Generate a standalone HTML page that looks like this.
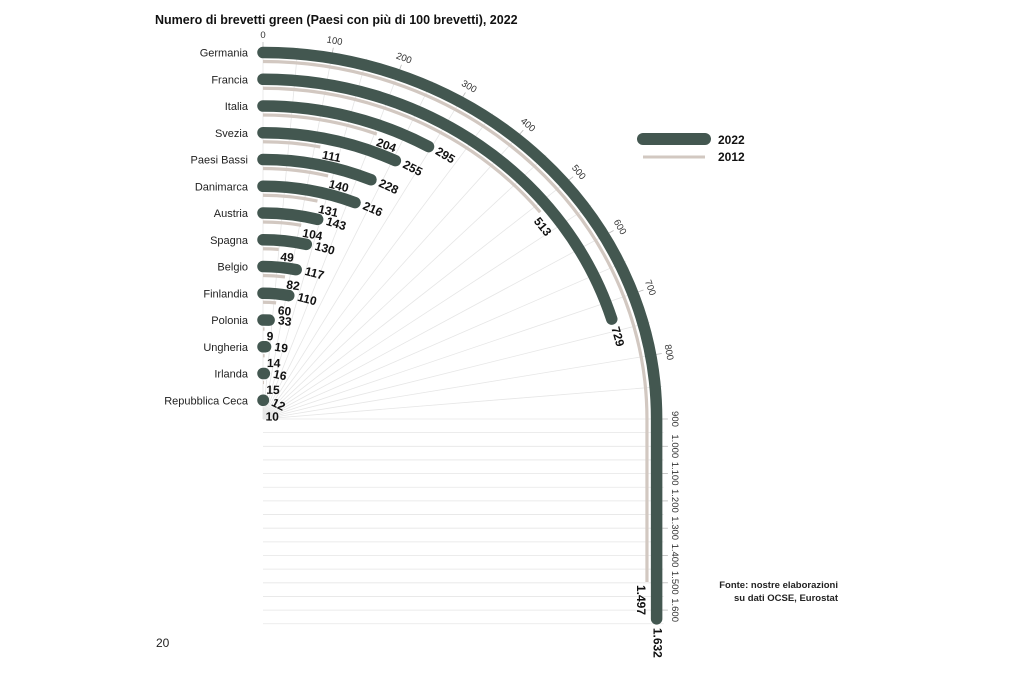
<!DOCTYPE html>
<html><head><meta charset="utf-8">
<style>
html,body{margin:0;padding:0;background:#fff;}
body{width:1033px;height:682px;overflow:hidden;position:relative;font-family:"Liberation Sans",sans-serif;}
svg{position:absolute;left:0;top:0;}
</style></head>
<body>
<svg id="s" width="1033" height="682" xmlns="http://www.w3.org/2000/svg">
<text x="155" y="24" font-size="12.5" font-weight="bold" fill="#111">Numero di brevetti green (Paesi con più di 100 brevetti), 2022</text>
<text x="156" y="647" font-size="12" fill="#222">20</text>
<text x="838" y="588" font-size="9.5" font-weight="bold" fill="#222" text-anchor="end">Fonte: nostre elaborazioni</text>
<text x="838" y="601" font-size="9.5" font-weight="bold" fill="#222" text-anchor="end">su dati OCSE, Eurostat</text>
<line x1="643" y1="139" x2="705" y2="139" stroke="#435750" stroke-width="12" stroke-linecap="round"/>
<text x="718" y="144" font-size="12" font-weight="bold" fill="#111">2022</text>
<line x1="643" y1="157" x2="705" y2="157" stroke="#d2c8c1" stroke-width="3"/>
<text x="718" y="161" font-size="12" font-weight="bold" fill="#111">2012</text>
<g id="g"></g>
</svg>
<script>
var NS="http://www.w3.org/2000/svg",g=document.getElementById("g");
var cx=263,cy=419,K=1.074,PX=0.273;
function el(n,a,t){var e=document.createElementNS(NS,n);for(var k in a)e.setAttribute(k,a[k]);if(t!=null)e.textContent=t;g.appendChild(e);return e;}
function pt(ry,v){if(v<=900){var t=v/900*Math.PI/2;return[cx+ry*K*Math.sin(t),cy-ry*Math.cos(t)];}return[cx+ry*K,cy+(v-900)*PX];}
function path(ry,v){var rx=ry*K,s="M"+cx+","+(cy-ry);var e=pt(ry,Math.min(v,900));s+=" A"+rx+","+ry+" 0 0 1 "+e[0]+","+e[1];if(v>900){s+=" L"+(cx+rx)+","+(cy+(v-900)*PX);}return s;}
for(var v=0;v<900;v+=50){var p=pt(373,v);el("line",{x1:cx,y1:cy,x2:p[0],y2:p[1],stroke:"#e6e6e6","stroke-width":0.8});}
for(var v=900;v<=1650;v+=50){var y=cy+(v-900)*PX;el("line",{x1:cx,y1:y,x2:cx+373*K,y2:y,stroke:"#e6e6e6","stroke-width":0.8});}
for(var v=0;v<=1600;v+=100){var a=pt(372,v),b=pt(377,v);el("line",{x1:a[0],y1:a[1],x2:b[0],y2:b[1],stroke:"#bbb","stroke-width":0.8});
 var l=pt(381,v),ang=v<=900?v/10:90;var lab=v>=1000?(Math.floor(v/1000)+"."+String(v%1000).padStart(3,"0")):String(v);
 el("text",{x:l[0],y:l[1],"font-size":"9.5",fill:"#333","text-anchor":"middle",transform:"rotate("+ang+" "+l[0]+" "+l[1]+")"},lab);}
var d=[["Germania",1632,1497],["Francia",729,513],["Italia",295,204],["Svezia",255,111],["Paesi Bassi",228,140],["Danimarca",216,131],["Austria",143,104],["Spagna",130,49],["Belgio",117,82],["Finlandia",110,60],["Polonia",33,9],["Ungheria",19,14],["Irlanda",16,15],["Repubblica Ceca",12,10]];
function fmt(n){return n>=1000?Math.floor(n/1000)+"."+String(n%1000).padStart(3,"0"):String(n);}
d.forEach(function(r,i){var y=52.5+i*26.75,ry=cy-y;
 el("text",{x:248,y:y+4,"font-size":"11",fill:"#222","text-anchor":"end"},r[0]);
 el("path",{d:path(ry-9,r[2]),fill:"none",stroke:"#d2c8c1","stroke-width":3.2});
 el("path",{d:path(ry,r[1]),fill:"none",stroke:"#435750","stroke-width":11.5,"stroke-linecap":"round"});
 var ang,p;
 if(r[1]>900){p=[cx+ry*K,cy+(r[1]-900)*PX+9];ang=90;}
 else{var dv=(9/(ry*K))*(900/(Math.PI/2));p=pt(ry,r[1]+dv);ang=(r[1]+dv)/10;}
 el("text",{x:p[0],y:p[1],"font-size":"12","font-weight":"bold",fill:"#111","dominant-baseline":"middle",transform:"rotate("+ang+" "+p[0]+" "+p[1]+")"},fmt(r[1]));
 if(r[2]>900){var q=[cx+(ry-9)*K-7,cy+(r[2]-900)*PX+3];el("text",{x:q[0],y:q[1],"font-size":"12","font-weight":"bold",fill:"#111","dominant-baseline":"middle",transform:"rotate(90 "+q[0]+" "+q[1]+")"},fmt(r[2]));}
 else{
  var t=r[2]/900*Math.PI/2,e=pt(ry-9,r[2]);
  var tx=Math.cos(t),tyv=Math.sin(t); // tangent
  var nx=-Math.sin(t),ny=Math.cos(t); // inward
  var w=fmt(r[2]).length*3.6;
  var qx=e[0]+tx*(w+2)+nx*8,qy=e[1]+tyv*(w+2)+ny*8;
  el("text",{x:qx,y:qy,"font-size":"12","font-weight":"bold",fill:"#111","text-anchor":"middle","dominant-baseline":"middle",transform:"rotate("+(r[2]/10)+" "+qx+" "+qy+")"},fmt(r[2]));}
});
</script>
</body></html>
